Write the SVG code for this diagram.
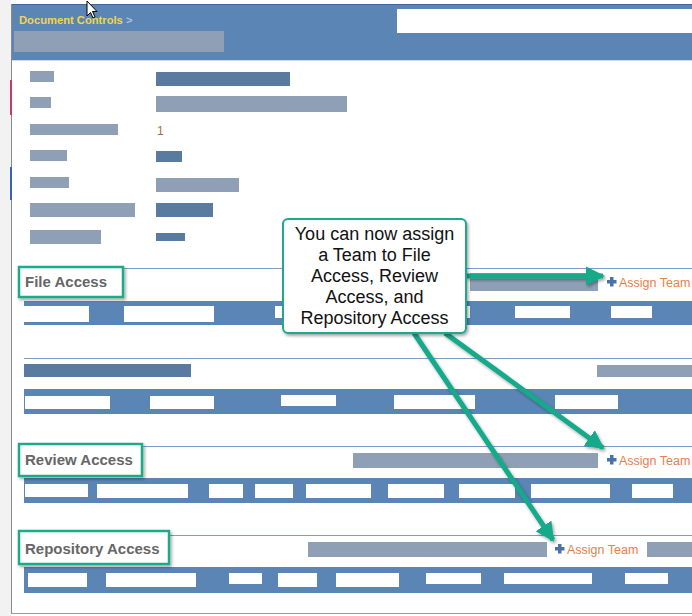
<svg xmlns="http://www.w3.org/2000/svg" width="692" height="616" viewBox="0 0 692 616">
<defs>
<style>
.lbl{fill:#8fa0b6}
.dk{fill:#5a7ba0}
.bar{fill:#5a85b5}
.wb{fill:#ffffff}
.sec{stroke:#7d9cc4;stroke-width:1}
.hdr{font-family:"Liberation Sans",Arial,sans-serif;font-weight:bold;font-size:15px;fill:#666666}
.hl{fill:#ffffff;stroke:#1aaa8a;stroke-width:2.5}
.at{font-family:"Liberation Sans",Arial,sans-serif;font-size:12.5px;fill:#e8804a}
.plus{fill:#4a72a8}
.call{font-family:"Liberation Sans",Arial,sans-serif;font-size:18px;fill:#111111;text-anchor:middle}
.arr{stroke:#13a98a;stroke-width:5;fill:none}
</style>
<filter id="sh" x="-10%" y="-10%" width="130%" height="130%">
<feDropShadow dx="1.5" dy="2" stdDeviation="1.5" flood-color="#000" flood-opacity="0.35"/>
</filter>
<marker id="ah" markerWidth="4" markerHeight="4" refX="3.4" refY="2" orient="auto" markerUnits="strokeWidth">
<path d="M0,0.1 L3.8,2 L0,3.9 Z" fill="#13a98a"/>
</marker>
</defs>
<rect x="0" y="0" width="692" height="616" fill="#ffffff"/>
<rect x="0" y="0" width="11" height="616" fill="#f2f2f2"/>
<line x1="11.5" y1="4" x2="11.5" y2="613" stroke="#8a8a8a" stroke-width="1"/>
<line x1="11" y1="613.5" x2="692" y2="613.5" stroke="#9a9a9a" stroke-width="1"/>
<rect x="10" y="80" width="2" height="35" fill="#c8386a"/>
<rect x="10" y="167" width="2" height="33" fill="#3a62b8"/>

<g id="header">
<rect x="12" y="4" width="680" height="56" fill="#5a85b5"/>
<line x1="12" y1="4.5" x2="692" y2="4.5" stroke="#3f6797" stroke-width="1"/>
<rect x="397" y="9" width="295" height="24" fill="#ffffff"/>
<text x="19" y="24" font-family="Liberation Sans,Arial,sans-serif" font-weight="bold" font-size="11.2" fill="#f2d54b">Document Controls <tspan fill="#a8c4e4">&gt;</tspan></text>
<rect x="14" y="31" width="210" height="21" fill="#8fa0b6"/>
<line x1="12" y1="60.5" x2="692" y2="60.5" stroke="#d0dae6" stroke-width="1"/>
</g>
<path d="M87,1 L87,16 L90.5,12.5 L93,18 L95,17 L92.5,11.5 L97,11.5 Z" fill="#ffffff" stroke="#000000" stroke-width="1"/>

<g id="details">
<rect class="lbl" x="30" y="71" width="24" height="11"/>
<rect class="dk" x="156" y="72" width="134" height="14"/>
<rect class="lbl" x="30" y="97" width="21" height="11"/>
<rect class="lbl" x="156" y="96" width="191" height="16"/>
<rect class="lbl" x="30" y="124" width="88" height="11"/>
<text x="157" y="135" font-family="Liberation Sans,Arial,sans-serif" font-size="12" fill="#b06a30">1</text>
<rect class="lbl" x="30" y="150" width="37" height="11"/>
<rect class="dk" x="156" y="151" width="26" height="11"/>
<rect class="lbl" x="30" y="177" width="39" height="11"/>
<rect class="lbl" x="156" y="178" width="83" height="14"/>
<rect class="lbl" x="30" y="203" width="105" height="14"/>
<rect class="dk" x="156" y="203" width="57" height="14"/>
<rect class="lbl" x="30" y="230" width="71" height="14"/>
<rect class="dk" x="156" y="233" width="29" height="8"/>
</g>

<g id="file-access">
<line class="sec" x1="24" y1="268.5" x2="692" y2="268.5"/>
<rect class="lbl" x="470" y="273" width="128" height="18"/>
<rect class="bar" x="24" y="301" width="668" height="24"/>
<rect class="wb" x="24" y="306" width="65" height="16"/>
<rect class="wb" x="124" y="306" width="90" height="16"/>
<rect class="wb" x="275" y="306" width="55" height="12"/>
<rect class="wb" x="430" y="306" width="40" height="12"/>
<rect class="wb" x="515" y="306" width="55" height="12"/>
<rect class="wb" x="611" y="306" width="41" height="12"/>
<rect class="hl" x="19" y="267" width="104" height="30" filter="url(#sh)"/>
<text class="hdr" x="25" y="287">File Access</text>
<path class="plus" d="M610,277 h3.5 v3 h3 v3.5 h-3 v3 h-3.5 v-3 h-3 v-3.5 h3 Z"/>
<text class="at" x="619" y="287">Assign Team</text>
</g>

<g id="section-2">
<line class="sec" x1="24" y1="358.5" x2="692" y2="358.5"/>
<rect class="dk" x="24" y="364" width="167" height="13"/>
<rect class="lbl" x="597" y="365" width="95" height="12"/>
<rect class="bar" x="24" y="389" width="668" height="25"/>
<rect class="wb" x="25" y="396" width="85" height="13"/>
<rect class="wb" x="150" y="396" width="64" height="13"/>
<rect class="wb" x="281" y="395" width="55" height="11"/>
<rect class="wb" x="394" y="395" width="81" height="14"/>
<rect class="wb" x="555" y="395" width="63" height="14"/>
</g>

<g id="review-access">
<line class="sec" x1="24" y1="446.5" x2="692" y2="446.5"/>
<rect class="lbl" x="353" y="453" width="245" height="15"/>
<rect class="bar" x="24" y="478" width="668" height="25"/>
<rect class="wb" x="25" y="484" width="63" height="13"/>
<rect class="wb" x="97" y="484" width="91" height="14"/>
<rect class="wb" x="209" y="484" width="34" height="14"/>
<rect class="wb" x="255" y="484" width="38" height="14"/>
<rect class="wb" x="306" y="484" width="65" height="14"/>
<rect class="wb" x="388" y="484" width="56" height="14"/>
<rect class="wb" x="459" y="484" width="56" height="14"/>
<rect class="wb" x="531" y="484" width="79" height="14"/>
<rect class="wb" x="632" y="484" width="41" height="14"/>
<rect class="hl" x="19" y="444" width="123" height="32" filter="url(#sh)"/>
<text class="hdr" x="25" y="465">Review Access</text>
<path class="plus" d="M610,455 h3.5 v3 h3 v3.5 h-3 v3 h-3.5 v-3 h-3 v-3.5 h3 Z"/>
<text class="at" x="619" y="465">Assign Team</text>
</g>

<g id="repository-access">
<line class="sec" x1="24" y1="535.5" x2="692" y2="535.5"/>
<rect class="lbl" x="308" y="542" width="239" height="15"/>
<rect class="lbl" x="647" y="542" width="45" height="15"/>
<rect class="bar" x="24" y="567" width="668" height="26"/>
<rect class="wb" x="28" y="573" width="59" height="14"/>
<rect class="wb" x="106" y="573" width="90" height="14"/>
<rect class="wb" x="229" y="573" width="33" height="11"/>
<rect class="wb" x="278" y="573" width="39" height="14"/>
<rect class="wb" x="336" y="573" width="63" height="14"/>
<rect class="wb" x="426" y="573" width="55" height="11"/>
<rect class="wb" x="504" y="573" width="88" height="11"/>
<rect class="wb" x="625" y="573" width="43" height="11"/>
<rect class="hl" x="19" y="531" width="150" height="33" filter="url(#sh)"/>
<text class="hdr" x="25" y="554">Repository Access</text>
<path class="plus" d="M558,544 h3.5 v3 h3 v3.5 h-3 v3 h-3.5 v-3 h-3 v-3.5 h3 Z"/>
<text class="at" x="567" y="554">Assign Team</text>
</g>

<g id="connectors" filter="url(#sh)">
<line class="arr" x1="466" y1="276" x2="603" y2="276" marker-end="url(#ah)"/>
<line class="arr" x1="445" y1="333" x2="603" y2="448" marker-end="url(#ah)"/>
<line class="arr" x1="414" y1="333" x2="553" y2="540" marker-end="url(#ah)"/>
</g>

<g id="callout">
<rect x="283" y="219" width="183" height="114" rx="5" ry="5" fill="#ffffff" stroke="#1aaa8a" stroke-width="2" filter="url(#sh)"/>
<text class="call" x="374.5" y="240">You can now assign</text>
<text class="call" x="374.5" y="261">a Team to File</text>
<text class="call" x="374.5" y="282">Access, Review</text>
<text class="call" x="374.5" y="303">Access, and</text>
<text class="call" x="374.5" y="324">Repository Access</text>
</g>
</svg>
